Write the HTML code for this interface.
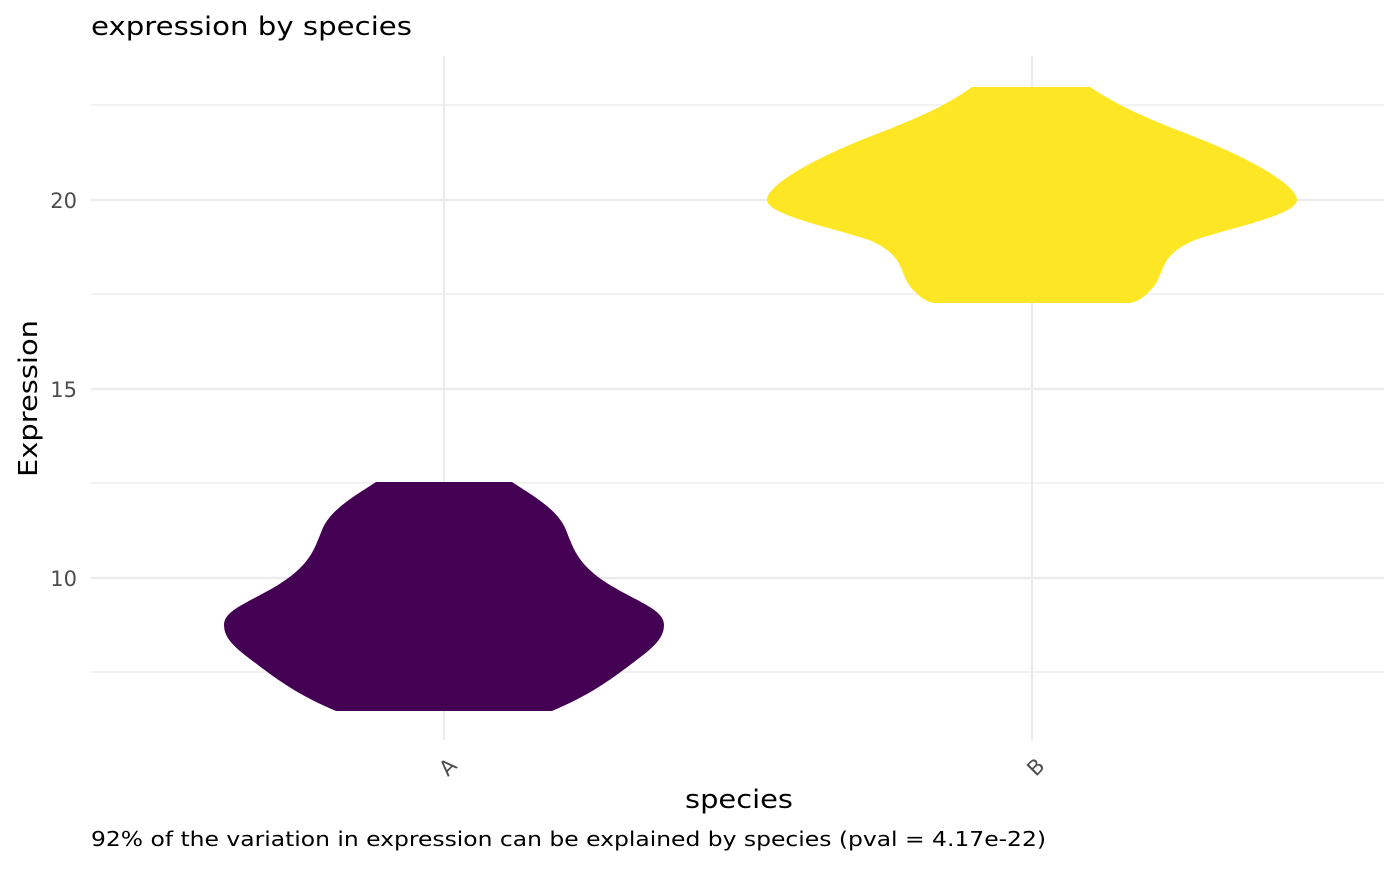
<!DOCTYPE html>
<html><head><meta charset="utf-8"><style>body{margin:0;background:#fff}</style></head><body>
<svg width="1400" height="866" xmlns="http://www.w3.org/2000/svg" font-family="DejaVu Sans, Liberation Sans, sans-serif">
<rect width="1400" height="866" fill="#fff"/>
<g stroke="#ebebeb" stroke-width="1.2">
<line x1="91" x2="1384" y1="105" y2="105"/><line x1="91" x2="1384" y1="294" y2="294"/>
<line x1="91" x2="1384" y1="483" y2="483"/><line x1="91" x2="1384" y1="672" y2="672"/>
</g>
<g stroke="#ebebeb" stroke-width="2.2">
<line x1="91" x2="1384" y1="200" y2="200"/><line x1="91" x2="1384" y1="389" y2="389"/><line x1="91" x2="1384" y1="578" y2="578"/>
<line x1="444" x2="444" y1="56" y2="740"/><line x1="1032" x2="1032" y1="56" y2="740"/>
</g>
<path fill="#440154" d="M376,482 L512,482 C535,497 558,510 566,530 C574,550 578,565 610,585 C640,603 664,610 664,625 C664,640 650,650 630,665 C610,680 590,695 552,711 L336,711 C298,695 278,680 258,665 C238,650 224,640 224,625 C224,610 248,603 278,585 C310,565 314,550 322,530 C330,510 353,497 376,482 Z"/>
<path fill="#fde725" d="M972,87 L1090,87 C1110,100 1130,112 1190,135 C1250,158 1297,185 1297,200 C1297,215 1230,228 1195,240 C1160,255 1165,270 1155,285 C1145,298 1135,303 1129,303 L935,303 C929,303 919,298 909,285 C899,270 904,255 869,240 C834,228 767,215 767,200 C767,185 814,158 874,135 C934,112 954,100 972,87 Z"/>
<g fill="#4d4d4d" font-size="21" text-anchor="end">
<text x="77" y="208">20</text><text x="77" y="397">15</text><text x="77" y="586">10</text>
</g>
<g fill="#4d4d4d" font-size="21" text-anchor="end">
<text transform="translate(458,767) rotate(-45)">A</text>
<text transform="translate(1046,767) rotate(-45)">B</text>
</g>
<text x="91" y="35" font-size="26" textLength="321" lengthAdjust="spacingAndGlyphs">expression by species</text>
<text x="685" y="808" font-size="26" textLength="108" lengthAdjust="spacingAndGlyphs">species</text>
<text transform="translate(37,477) rotate(-90)" font-size="26" textLength="157" lengthAdjust="spacingAndGlyphs">Expression</text>
<text x="91" y="846" font-size="20" textLength="955" lengthAdjust="spacingAndGlyphs">92% of the variation in expression can be explained by species (pval = 4.17e-22)</text>
</svg>
</body></html>
